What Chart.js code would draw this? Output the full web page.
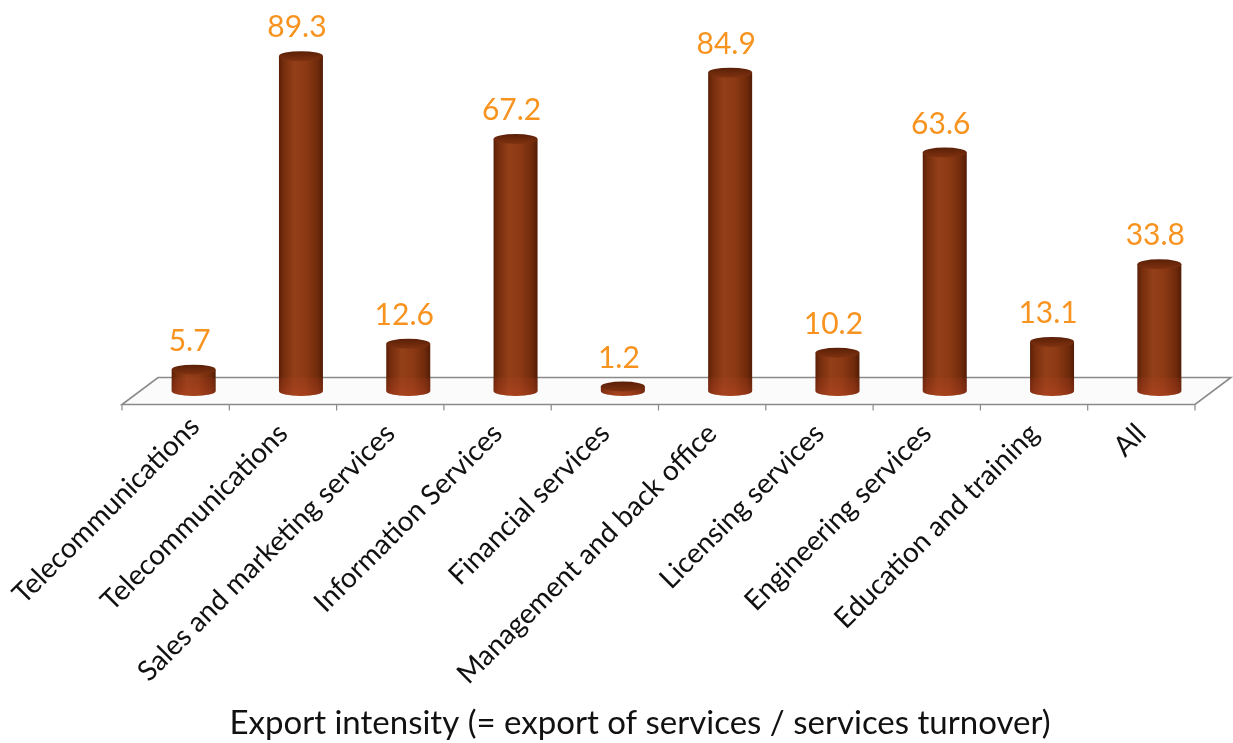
<!DOCTYPE html>
<html>
<head>
<meta charset="utf-8">
<script src="https://cdn.jsdelivr.net/npm/chart.js@4.4.1/dist/chart.umd.min.js"></script>
<style>
  html, body { margin: 0; padding: 0; background: #ffffff; }
  #wrap { width: 1233px; height: 743px; position: relative; }
</style>
</head>
<body>
<div id="wrap"><canvas id="chart" width="1233" height="743"></canvas></div>
<script>
// Service categories along the floor
const categories = [
  'Telecommunications',
  'Telecommunications',
  'Sales and marketing services',
  'Information Services',
  'Financial services',
  'Management and back office',
  'Licensing services',
  'Engineering services',
  'Education and training',
  'All'
];

// Export intensity per category (%)
const exportIntensity = [5.7, 89.3, 12.6, 67.2, 1.2, 84.9, 10.2, 63.6, 13.1, 33.8];

// Value axis range
const valueMin = 0;
const valueMax = 100;

const axisTitle = 'Export intensity (= export of services / services turnover)';

// 3D look: half of the floor depth, in pixels
const DEPTH_X = 18;
const DEPTH_Y = 13.5;
const CAP_RY = 5;
const TITLE_FONT = 33;
const TITLE_PAD_BOTTOM = 0;

// Floor parallelogram drawn under the bars, with category tick marks
const floorPlugin = {
  id: 'floor',
  beforeDatasetsDraw(chart) {
    const { ctx, chartArea, scales } = chart;
    const xs = scales.x;
    const L = chartArea.left, R = chartArea.right, B = chartArea.bottom;
    ctx.save();
    ctx.beginPath();
    ctx.moveTo(L - DEPTH_X, B + DEPTH_Y);
    ctx.lineTo(R - DEPTH_X, B + DEPTH_Y);
    ctx.lineTo(R + DEPTH_X, B - DEPTH_Y);
    ctx.lineTo(L + DEPTH_X, B - DEPTH_Y);
    ctx.closePath();
    ctx.fillStyle = '#fbfbfb';
    ctx.fill();
    ctx.strokeStyle = '#8a8a8a';
    ctx.lineWidth = 1.6;
    ctx.stroke();
    // tick marks at category boundaries on the front edge
    const step = xs.getPixelForValue(1) - xs.getPixelForValue(0);
    ctx.beginPath();
    for (let i = 0; i <= categories.length; i++) {
      const bx = xs.getPixelForValue(0) - step / 2 + i * step - DEPTH_X;
      ctx.moveTo(bx, B + DEPTH_Y);
      ctx.lineTo(bx, B + DEPTH_Y + 6);
    }
    ctx.lineWidth = 1.2;
    ctx.stroke();
    ctx.restore();
  }
};

// Keep the first rotated category label inside the canvas
const labelFitPlugin = {
  id: 'labelFit',
  beforeDraw(chart) {
    const items = chart.scales.x.getLabelItems();
    if (items.length && items[0].options && items[0].options.translation) {
      items[0].options.translation[0] += 19;
      items[0].options.translation[1] -= 7;
    }
  }
};

function drawCylinder(ctx, x, top, base, w, floorBackY) {
  const rx = w / 2;
  const left = x - rx, right = x + rx;
  const grad = ctx.createLinearGradient(left, 0, right, 0);
  grad.addColorStop(0, '#5a1f07');
  grad.addColorStop(0.1, '#752d0d');
  grad.addColorStop(0.35, '#933f18');
  grad.addColorStop(0.6, '#8d3a14');
  grad.addColorStop(0.88, '#6f2a0b');
  grad.addColorStop(1, '#521c06');

  // body: side wall plus the front half of the base ellipse
  ctx.beginPath();
  ctx.moveTo(left, top);
  ctx.lineTo(left, base);
  ctx.ellipse(x, base, rx, CAP_RY, 0, Math.PI, 0, true);
  ctx.lineTo(right, top);
  ctx.closePath();
  ctx.fillStyle = grad;
  ctx.fill();

  // warmer tone where the cylinder stands on the floor
  const glowTop = Math.max(top, floorBackY);
  if (base > glowTop) {
    const vg = ctx.createLinearGradient(0, glowTop, 0, base + CAP_RY);
    vg.addColorStop(0, 'rgba(185,65,38,0.16)');
    vg.addColorStop(1, 'rgba(205,75,42,0.38)');
    ctx.beginPath();
    ctx.moveTo(left, glowTop);
    ctx.lineTo(left, base);
    ctx.ellipse(x, base, rx, CAP_RY, 0, Math.PI, 0, true);
    ctx.lineTo(right, glowTop);
    ctx.closePath();
    ctx.fillStyle = vg;
    ctx.fill();
  }

  // top cap
  const cg = ctx.createLinearGradient(0, top - CAP_RY, 0, top + CAP_RY);
  cg.addColorStop(0, '#5a1f07');
  cg.addColorStop(1, '#7f3210');
  ctx.beginPath();
  ctx.ellipse(x, top, rx, CAP_RY, 0, 0, Math.PI * 2);
  ctx.fillStyle = cg;
  ctx.fill();
}

// Cylinders and value labels, positioned from the bar elements
const cylinderPlugin = {
  id: 'cylinders',
  afterDatasetsDraw(chart) {
    const { ctx, chartArea } = chart;
    const meta = chart.getDatasetMeta(0);
    ctx.save();
    meta.data.forEach((bar) => {
      const p = bar.getProps(['x', 'y', 'base', 'width'], true);
      drawCylinder(ctx, p.x, p.y, p.base, p.width, chartArea.bottom - DEPTH_Y);
    });
    ctx.font = '30px Lato, "Open Sans", sans-serif';
    ctx.fillStyle = '#f7931e';
    ctx.textAlign = 'center';
    ctx.textBaseline = 'alphabetic';
    meta.data.forEach((bar, i) => {
      const p = bar.getProps(['x', 'y'], true);
      ctx.fillText(exportIntensity[i].toFixed(1), p.x - 4, p.y - CAP_RY - 14);
    });
    ctx.restore();
  }
};

const ctx = document.getElementById('chart').getContext('2d');
new Chart(ctx, {
  type: 'bar',
  data: {
    labels: categories,
    datasets: [{
      data: exportIntensity,
      backgroundColor: 'rgba(0,0,0,0)',
      borderWidth: 0,
      barPercentage: 0.41,
      categoryPercentage: 1.0
    }]
  },
  options: {
    responsive: false,
    animation: false,
    devicePixelRatio: 1,
    layout: { padding: { left: 67, right: 20, top: 16, bottom: 0 } },
    plugins: {
      legend: { display: false },
      tooltip: { enabled: false },
      title: {
        display: true,
        position: 'bottom',
        text: axisTitle,
        color: '#111111',
        font: { family: 'Lato, "Open Sans", sans-serif', size: TITLE_FONT, weight: 'normal', lineHeight: 1.2 },
        padding: { top: 0, bottom: TITLE_PAD_BOTTOM }
      }
    },
    scales: {
      x: {
        offset: true,
        grid: { display: false },
        border: { display: false },
        ticks: {
          autoSkip: false,
          minRotation: 45,
          maxRotation: 45,
          padding: 18,
          labelOffset: -18,
          color: '#111111',
          font: { family: 'Lato, "Open Sans", sans-serif', size: 28 }
        },
        afterFit(scale) {
          scale.paddingLeft = 0;
          scale.paddingRight = 0;
          scale.height = 743 - 391 - (TITLE_FONT * 1.2 + TITLE_PAD_BOTTOM);
        }
      },
      y: {
        display: true,
        min: valueMin,
        max: valueMax,
        grid: { display: false },
        border: { display: false },
        ticks: { display: false },
        afterFit(scale) {
          scale.width = 73;
        }
      }
    }
  },
  plugins: [floorPlugin, labelFitPlugin, cylinderPlugin]
});
</script>
</body>
</html>
